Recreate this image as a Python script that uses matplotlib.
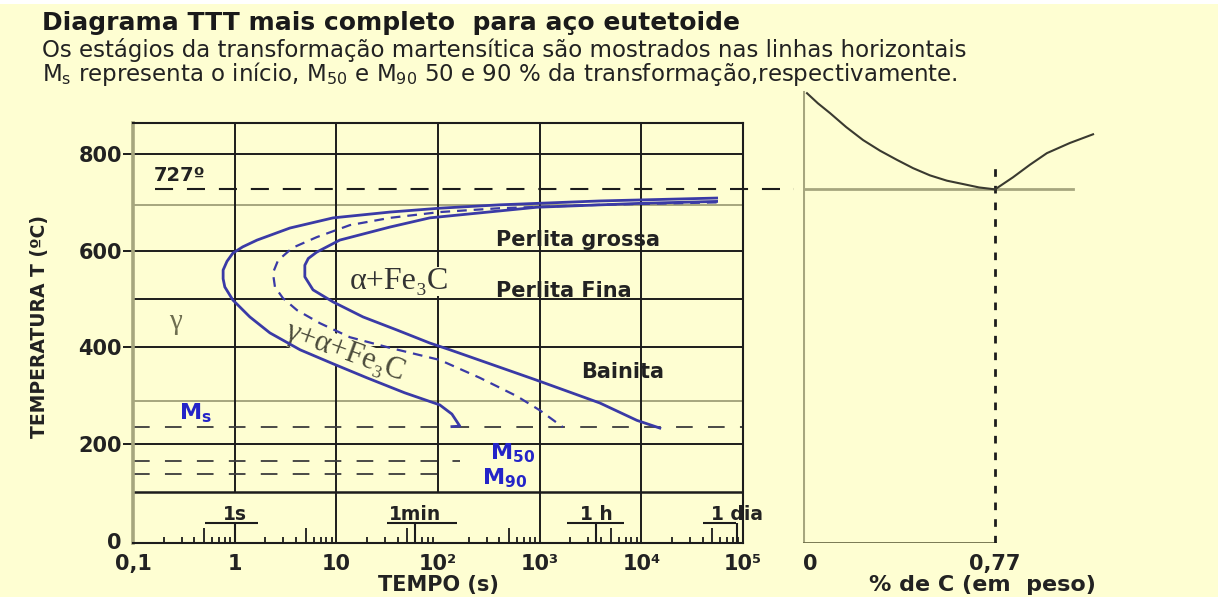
import numpy as np
import matplotlib.pyplot as plt
from matplotlib.patches import Rectangle
from matplotlib.ticker import LogLocator

plt.rcParams['font.family'] = ['DejaVu Sans']
plt.rcParams['mathtext.fontset'] = 'dejavusans'
plt.rcParams['lines.scale_dashes'] = False

inicio_t = [55000, 3900, 406, 104, 33.7, 9.3, 3.5, 1.66, 1.2, 0.96, 0.84, 0.77, 0.77, 0.80, 0.96, 1.41,
            2.22, 4.4, 9.3, 20, 47, 104, 137, 164, 137]
inicio_T = [709, 703, 695, 688, 680, 668, 647, 622, 608, 595, 578, 560, 542, 525, 498, 463,
            430, 395, 366, 337, 306, 281, 262, 237, 236]

meio_t = [55000, 3900, 406, 104, 33.7, 13.6, 6.4, 3.7, 2.67, 2.38, 2.49, 2.98, 4.1,
          6.9, 13.6, 33.7, 104, 258, 597, 1000, 1690]
meio_T = [700, 695, 688, 680, 668, 653, 628, 606, 580, 554, 525, 502, 477,
          450, 421, 399, 374, 337, 299, 270, 235]

fim_t = [55000, 9660, 938, 83, 33.7, 10.8, 6.4, 5.3, 4.9, 4.9, 5.9, 9.3, 18.3, 39.4,
         83, 131, 938, 3900, 9040, 15200]
fim_T = [702, 698, 690, 668, 649, 622, 597, 584, 570, 546, 519, 494, 463, 436,
         409, 395, 332, 285, 249, 233]

# linhas horizontais
T_eutetoide = 727
T_Ms, T_M50, T_M90 = 236, 165, 138
fim_M50, fim_M90 = 164, 131
grade_T = [800, 695, 600, 500, 400, 290, 200, 100]
grade_oliva = [False, True, False, False, False, True, False, False]

# escala de tempo
xticks = [0.1, 1, 10, 100, 1e3, 1e4, 1e5]
xlabels = ['0,1', '1', '10', '10²', '10³', '10⁴', '10⁵']
yticks = [0, 200, 400, 600, 800]
marcas_t = [1, 60, 3600, 86400]
marcas_lbl = ['1s', '1min', '1 h', '1 dia']
sub_ini = [0.51, 31.5, 1850, 40300]
sub_fim = [1.69, 153, 6730, 85000]

# diagrama Fe-C (% C, ºC)
carbono_A3 = [0.016, 0.060, 0.108, 0.173, 0.241, 0.309, 0.377, 0.441, 0.509, 0.577, 0.642, 0.706, 0.77]
T_A3 = [926, 905, 885, 856, 829, 807, 788, 771, 756, 745, 738, 731, 727]
carbono_Acm = [0.77, 0.842, 0.910, 0.978, 1.07, 1.163]
T_Acm = [727, 752, 778, 802, 823, 841]

bg = '#fefed2'
azul = '#3a3aa6'
azul_txt = '#2424c8'
oliva = '#a6a67e'
tinta = '#1c1c1c'
texto = '#222222'

fig = plt.figure(figsize=(12.18, 5.97), dpi=100, facecolor=bg)
fig.patches.append(Rectangle((0, 1 - 4 / 597), 1, 4 / 597, transform=fig.transFigure,
                             facecolor='white', edgecolor='none'))

ax = fig.add_axes([133 / 1218, 54 / 597, 610 / 1218, 420 / 597])
ax.set_facecolor(bg)
ax.set_xscale('log')
ax.set_xlim(0.1, 1e5)
ax.set_ylim(-4.8, 864.3)

for T, ol in zip(grade_T, grade_oliva):
    ax.axhline(T, color=oliva if ol else tinta, lw=1.8 if T == 100 else 1.4, zorder=1)
for t in [10, 1e3, 1e4]:
    ax.axvline(t, color=tinta, lw=1.4, zorder=1)
for t in [1, 100]:
    ax.vlines(t, 100, 864.3, color=tinta, lw=1.4, zorder=1)

for s in ['top', 'right', 'bottom']:
    ax.spines[s].set_color(tinta)
    ax.spines[s].set_linewidth(1.5)
ax.spines['left'].set_color(oliva)
ax.spines['left'].set_linewidth(2.6)

ax.set_xticks(xticks, xlabels)
ax.xaxis.set_minor_locator(LogLocator(base=10, subs=[2, 3, 4, 6, 7, 8, 9], numticks=20))
ax.tick_params(axis='x', which='major', length=0, pad=8, labelsize=15)
ax.tick_params(axis='x', which='minor', direction='in', length=4.5, width=1.3, color=tinta)
ax.set_yticks(yticks, [str(v) for v in yticks])
ax.tick_params(axis='y', length=7, width=1.4, color=tinta, pad=1, labelsize=15)
ax.yaxis.get_major_ticks()[0].tick1line.set_visible(False)
for lbl in ax.get_xticklabels() + ax.get_yticklabels():
    lbl.set_fontweight('bold')
    lbl.set_color(texto)

# marcas maiores em 5x10^n e marcas de 1s, 1min, 1h, 1 dia
ax.vlines([0.5, 5, 50, 500, 5000, 50000], -4.8, 26, color=tinta, lw=1.3)
ax.vlines(marcas_t, -4.8, 36.6, color=tinta, lw=1.5)
ax.hlines([36.6] * len(sub_ini), sub_ini, sub_fim, color=tinta, lw=1.5)
for t, lbl in zip(marcas_t, marcas_lbl):
    ax.text(t, 55, lbl, ha='center', va='center', fontsize=13.5, fontweight='bold', color=texto)

ax.plot([0.164, 3.2e5], [T_eutetoide] * 2, color=tinta, lw=1.5, ls=(0, (13, 10)), clip_on=False)
ax.axhline(T_Ms, color='#3c3c3c', lw=1.3, ls=(0, (12, 11)), zorder=1)
ax.hlines(T_M50, 0.1, fim_M50, color='#3c3c3c', lw=1.3, ls=(0, (12, 11)), zorder=1)
ax.hlines(T_M90, 0.1, fim_M90, color='#3c3c3c', lw=1.3, ls=(0, (12, 11)), zorder=1)

ax.plot(inicio_t, inicio_T, color=azul, lw=2.0, zorder=4, solid_joinstyle='round')
ax.plot(meio_t, meio_T, color=azul, lw=1.6, ls=(0, (7, 5)), zorder=4)
ax.plot(fim_t, fim_T, color=azul, lw=2.0, zorder=4, solid_joinstyle='round')

serif = ['Liberation Serif', 'DejaVu Serif']
ax.text(0.29, 755, '727º', ha='center', va='center', fontsize=14, fontweight='bold', color=texto)
ax.text(2380, 622, 'Perlita grossa', ha='center', va='center', fontsize=15, fontweight='bold', color=texto)
ax.text(1730, 517, 'Perlita Fina', ha='center', va='center', fontsize=15, fontweight='bold', color=texto)
ax.text(6580, 349, 'Bainita', ha='center', va='center', fontsize=15, fontweight='bold', color=texto)
ax.text(42, 537, 'α+Fe₃C', ha='center', va='center', fontsize=23, family=serif, color='#333333',
        zorder=3, bbox=dict(facecolor=bg, edgecolor='none', pad=0))
ax.text(12.2, 390, 'γ+α+Fe₃C', ha='center', va='center', fontsize=22, family=serif, color='#4a4a3a',
        rotation=-20, rotation_mode='anchor', zorder=3, bbox=dict(facecolor=bg, edgecolor='none', pad=0))
ax.text(0.26, 452, 'γ', ha='center', va='center', fontsize=21, family=serif, color='#6e6e50')
ax.text(0.41, 264, r'$\mathbf{M_s}$', ha='center', va='center', fontsize=16, color=azul_txt)
ax.text(545, 181, r'$\mathbf{M_{50}}$', ha='center', va='center', fontsize=16, color=azul_txt)
ax.text(455, 130, r'$\mathbf{M_{90}}$', ha='center', va='center', fontsize=16, color=azul_txt)

ax.set_xlabel('TEMPO (s)', fontsize=15, fontweight='bold', color=texto, labelpad=1)
fig.text(40 / 1218, 1 - 327 / 597, 'TEMPERATURA T (ºC)', rotation=90, ha='center', va='center',
         fontsize=13.5, fontweight='bold', color=texto)

# painel do diagrama Fe-C
ax2 = fig.add_axes([803 / 1218, 54 / 597, 415 / 1218, 458 / 597])
ax2.patch.set_alpha(0)
ax2.set_xlim(0, 1.664)
ax2.set_ylim(-4.8, 943)
for s in ax2.spines.values():
    s.set_visible(False)
ax2.set_yticks([])
ax2.set_xticks([0.03, 0.77], ['0', '0,77'])
ax2.tick_params(axis='x', length=0, pad=8, labelsize=15)
for lbl in ax2.get_xticklabels():
    lbl.set_fontweight('bold')
    lbl.set_color(texto)

ax2.plot([0, 0], [-4.8, 928], color=oliva, lw=2.2)
ax2.plot([0, 0.77], [-4.8, -4.8], color='#6e6e48', lw=2.0)
ax2.plot([0, 1.083], [T_eutetoide] * 2, color=oliva, lw=2.0)
ax2.plot([0.77, 0.77], [-4.8, 781], color=tinta, lw=2.0, ls=(0, (5.5, 6.5)))
ax2.plot(carbono_A3, T_A3, color='#3a3a30', lw=1.5)
ax2.plot(carbono_Acm, T_Acm, color='#3a3a30', lw=1.5)
fig.text(982 / 1218, 1 - 585 / 597, '% de C (em  peso)', ha='center', va='center',
         fontsize=16, fontweight='bold', color=texto)

# títulos
fig.text(42 / 1218, 1 - 30 / 597, 'Diagrama TTT mais completo  para aço eutetoide',
         fontsize=18, fontweight='bold', color='#1a1a1a', va='baseline')
fig.text(42 / 1218, 1 - 57 / 597,
         'Os estágios da transformação martensítica são mostrados nas linhas horizontais',
         fontsize=16.5, color=texto, va='baseline')
fig.text(42 / 1218, 1 - 81 / 597,
         r'M$_\mathrm{s}$ representa o início, M$_{50}$ e M$_{90}$ 50 e 90 % da transformação,respectivamente.',
         fontsize=16.5, color=texto, va='baseline')

fig.savefig('out.png', dpi=100, facecolor=bg)
